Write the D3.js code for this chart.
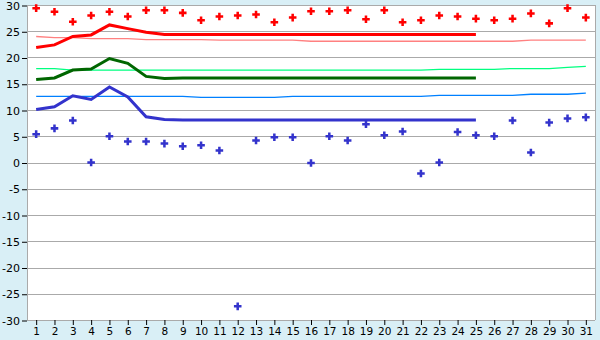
<!DOCTYPE html>
<html>
<head>
<meta charset="utf-8">
<script src="https://cdn.jsdelivr.net/npm/d3@7"></script>
<style>
  html, body { margin: 0; padding: 0; background: #d9eff6; }
  text { font-family: "DejaVu Sans", sans-serif; fill: #000; }
</style>
</head>
<body>
<div id="chart"></div>
<script>
const width = 600;
const height = 340;

const days = d3.range(1, 32);

const yTicks = [-30, -25, -20, -15, -10, -5, 0, 5, 10, 15, 20, 25, 30];

// daily max / min readings (markers)
const maxTemps = [29.4, 28.7, 26.8, 28.0, 28.7, 27.8, 29.0, 29.0, 28.5, 27.1,
  27.8, 28.0, 28.2, 26.7, 27.6, 28.8, 28.8, 29.0, 27.3, 29.0,
  26.7, 27.1, 28.0, 27.8, 27.4, 27.1, 27.4, 28.4, 26.5, 29.4, 27.6];

const minTemps = [5.4, 6.5, 8.0, 0.0, 5.0, 4.0, 4.0, 3.6, 3.1, 3.3,
  2.3, -27.4, 4.2, 4.8, 4.8, -0.1, 5.0, 4.2, 7.3, 5.2,
  5.9, -2.1, 0.0, 5.8, 5.2, 5.0, 8.0, 1.9, 7.6, 8.4, 8.6];

// running means (to day 25)
const meanMax = [21.9, 22.4, 24.0, 24.3, 26.2, 25.5, 24.8, 24.4, 24.4, 24.4,
  24.4, 24.4, 24.4, 24.4, 24.4, 24.4, 24.4, 24.4, 24.4, 24.4,
  24.4, 24.4, 24.4, 24.4, 24.4];

const meanAvg = [15.8, 16.1, 17.6, 17.8, 19.8, 18.9, 16.4, 16.0, 16.1, 16.1,
  16.1, 16.1, 16.1, 16.1, 16.1, 16.1, 16.1, 16.1, 16.1, 16.1,
  16.1, 16.1, 16.1, 16.1, 16.1];

const meanMin = [10.1, 10.6, 12.7, 12.0, 14.4, 12.5, 8.7, 8.2, 8.1, 8.1,
  8.1, 8.1, 8.1, 8.1, 8.1, 8.1, 8.1, 8.1, 8.1, 8.1,
  8.1, 8.1, 8.1, 8.1, 8.1];

// long-term normals
const normMax = [24.0, 23.8, 23.8, 23.6, 23.6, 23.6, 23.4, 23.4, 23.4, 23.4,
  23.3, 23.3, 23.3, 23.3, 23.3, 23.1, 23.1, 23.1, 23.1, 23.1,
  23.1, 23.1, 23.1, 23.1, 23.1, 23.1, 23.1, 23.3, 23.3, 23.3, 23.3];

const normAvg = [17.9, 17.9, 17.6, 17.6, 17.6, 17.6, 17.6, 17.6, 17.6, 17.6,
  17.6, 17.6, 17.6, 17.6, 17.6, 17.6, 17.6, 17.6, 17.6, 17.6,
  17.6, 17.6, 17.75, 17.75, 17.75, 17.75, 17.9, 17.9, 17.9, 18.1, 18.3];

const normMin = [12.6, 12.6, 12.6, 12.6, 12.6, 12.6, 12.6, 12.6, 12.6, 12.4,
  12.4, 12.4, 12.4, 12.4, 12.6, 12.6, 12.6, 12.6, 12.6, 12.6,
  12.6, 12.6, 12.8, 12.8, 12.8, 12.8, 12.8, 13.0, 13.0, 13.0, 13.2];

const plotLeft = 27, plotRight = 595, plotTop = 5, plotBottom = 320;

const svg = d3.select('#chart')
  .append('svg')
  .attr('width', width)
  .attr('height', height);

svg.append('rect')
  .attr('x', plotLeft)
  .attr('y', plotTop)
  .attr('width', plotRight - plotLeft)
  .attr('height', plotBottom - plotTop)
  .style('fill', '#fff');

const x = d3.scaleBand()
  .domain(days)
  .range([plotLeft, plotRight]);

const cx = d => x(d) + x.bandwidth() / 2;

const y = d3.scaleLinear()
  .domain([-30, 30])
  .range([plotBottom, plotTop]);

// grid
svg.append('g')
  .selectAll('line')
  .data(yTicks)
  .join('line')
  .attr('x1', plotLeft)
  .attr('x2', plotRight)
  .attr('y1', d => Math.round(y(d)) + 0.5)
  .attr('y2', d => Math.round(y(d)) + 0.5)
  .attr('stroke', '#aaa')
  .attr('stroke-width', 1);

svg.append('line')
  .attr('x1', plotRight + 0.5).attr('x2', plotRight + 0.5)
  .attr('y1', plotTop).attr('y2', plotBottom)
  .attr('stroke', '#aaa');

svg.append('line')
  .attr('x1', plotLeft + 0.5).attr('x2', plotLeft + 0.5)
  .attr('y1', plotTop).attr('y2', plotBottom)
  .attr('stroke', '#aaa');

// y axis
const yAxis = svg.append('g')
  .attr('transform', `translate(${plotLeft},0.5)`)
  .call(d3.axisLeft(y).tickValues(yTicks).tickSize(5).tickPadding(2).tickFormat(d => String(d)));
yAxis.select('.domain').remove();
yAxis.selectAll('text').style('font-size', '11px').style('font-family', '"DejaVu Sans", sans-serif');
yAxis.selectAll('line').attr('stroke', '#000');

// x axis
const xAxis = svg.append('g')
  .attr('transform', `translate(0.5,${plotBottom})`)
  .call(d3.axisBottom(x).tickSize(5).tickPadding(3));
xAxis.select('.domain').remove();
xAxis.selectAll('text').style('font-size', '10.5px').style('font-family', '"DejaVu Sans", sans-serif');
xAxis.selectAll('line').attr('stroke', '#000');

const lineFunction = d3.line()
  .x((d, i) => cx(days[i]))
  .y(d => y(d));

function drawLine(values, color, w) {
  svg.append('path')
    .attr('d', lineFunction(values))
    .attr('fill', 'none')
    .attr('stroke', color)
    .attr('stroke-width', w);
}

drawLine(normMax, '#ff8080', 1.3);
drawLine(normAvg, '#00ff80', 1.3);
drawLine(normMin, '#0080ff', 1.3);

drawLine(meanMax, '#ff0000', 3);
drawLine(meanAvg, '#006600', 3);
drawLine(meanMin, '#3333cc', 3);

const cross = d3.symbol().type(d3.symbolCross).size(32);

function drawMarkers(values, color) {
  svg.append('g')
    .selectAll('path')
    .data(values)
    .join('path')
    .attr('d', cross)
    .attr('transform', (d, i) => `translate(${cx(days[i])},${y(d)})`)
    .attr('fill', color);
}

drawMarkers(maxTemps, '#ff0000');
drawMarkers(minTemps, '#3333cc');
</script>
</body>
</html>
